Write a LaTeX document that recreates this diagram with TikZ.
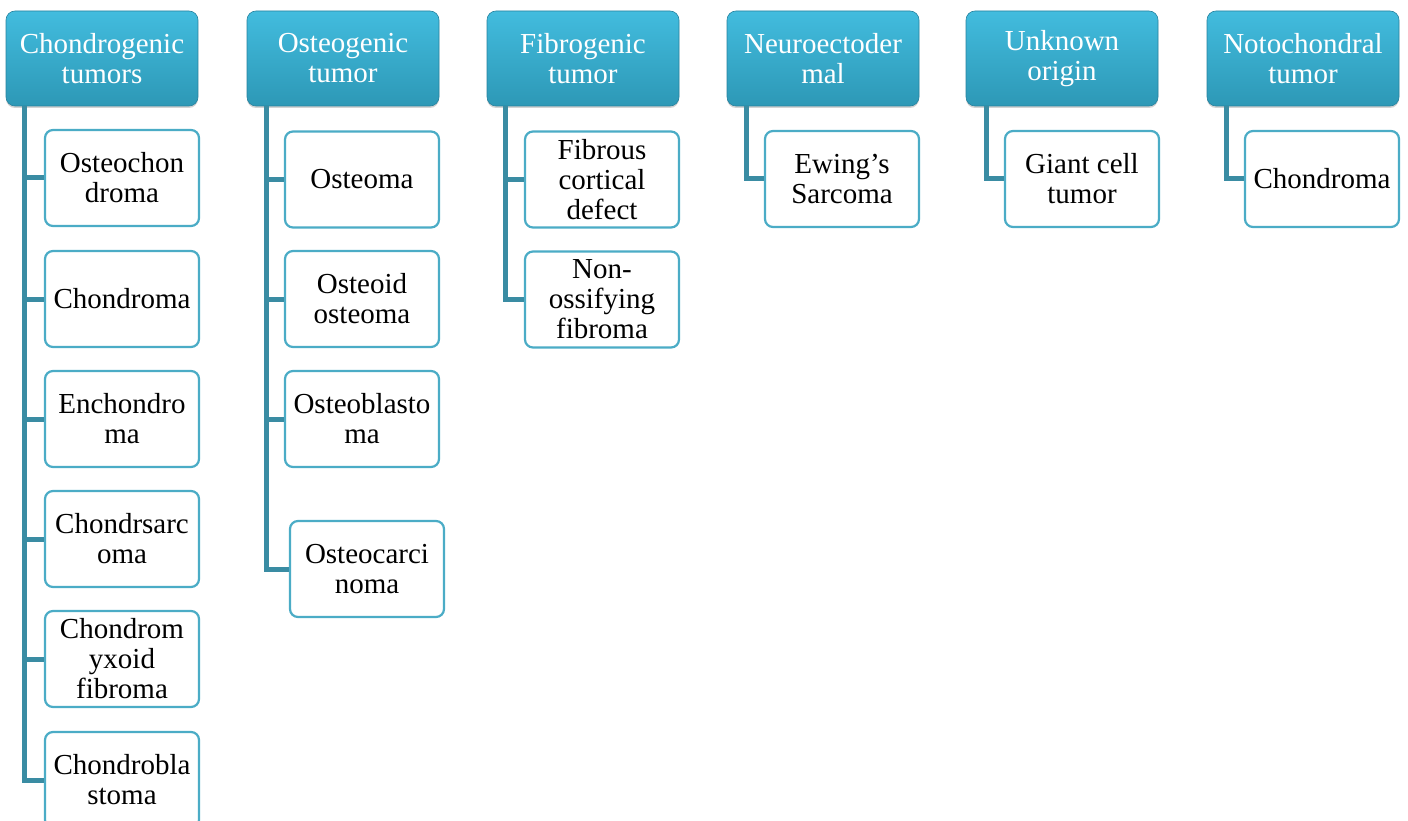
\documentclass[tikz,border=0pt]{standalone}
\usepackage{fontspec}
\setmainfont{Liberation Serif}
\usetikzlibrary{shadows}
\definecolor{hdtop}{RGB}{66,188,222}
\definecolor{hdbot}{RGB}{45,152,182}
\definecolor{hdline}{RGB}{40,130,158}
\definecolor{conncol}{RGB}{58,140,163}
\definecolor{childcol}{RGB}{75,172,198}
\tikzset{
  hdr/.style={rounded corners=9pt, minimum width=192pt, minimum height=95pt,
    top color=hdtop, bottom color=hdbot, draw=hdline, line width=0.6pt,
    text=white, align=center, inner sep=0pt,
    font=\fontsize{29}{30}\selectfont,
    drop shadow={opacity=0.35, shadow xshift=0pt, shadow yshift=-2pt}},
  child/.style={rounded corners=8pt, minimum width=154pt, minimum height=96pt,
    draw=childcol, line width=2.2pt, fill=white, text=black, align=center,
    inner sep=0pt, font=\fontsize{29}{30}\selectfont},
  conn/.style={draw=conncol, line width=5pt}
}
\begin{document}
\begin{tikzpicture}[x=1pt,y=-1pt]
\useasboundingbox (0,0) rectangle (1408,821);
\clip (0,0) rectangle (1408,821);
% headers
\node[hdr] (h1) at (102,58.5) {Chondrogenic\\tumors};
\node[hdr] (h2) at (343,58.5) {Osteogenic\\tumor};
\node[hdr] (h3) at (583,58.5) {Fibrogenic\\tumor};
\node[hdr] (h4) at (823,58.5) {Neuroectoder\\mal};
\node[hdr] (h5) at (1062,58.5) {Unknown\\origin};
\node[hdr] (h6) at (1303,58.5) {Notochondral\\tumor};
% connectors (drawn first so boxes cover ends)
\node[child] (c11) at (122,178) {Osteochon\\droma};
\node[child] (c12) at (122,299) {Chondroma};
\node[child] (c13) at (122,419) {Enchondro\\ma};
\node[child] (c14) at (122,539) {Chondrsarc\\oma};
\node[child] (c15) at (122,659) {Chondrom\\yxoid\\fibroma};
\node[child] (c16) at (122,780) {Chondrobla\\stoma};
\node[child] (c21) at (362,179.5) {Osteoma};
\node[child] (c22) at (362,299) {Osteoid\\osteoma};
\node[child] (c23) at (362,419) {Osteoblasto\\ma};
\node[child] (c24) at (367,569) {Osteocarci\\noma};
\node[child] (c31) at (602,179.5) {Fibrous\\cortical\\defect};
\node[child] (c32) at (602,299.5) {Non-\\ossifying\\fibroma};
\node[child] (c41) at (842,179) {Ewing’s\\Sarcoma};
\node[child] (c51) at (1082,179) {Giant cell\\tumor};
\node[child] (c61) at (1322,179) {Chondroma};
\begin{scope}[on background layer/.style={}]
\foreach \c in {c11,c12,c13,c14,c15,c16}
  \draw[conn] ([xshift=19pt]h1.south west) |- (\c.west);
\foreach \c in {c21,c22,c23,c24}
  \draw[conn] ([xshift=20pt]h2.south west) |- (\c.west);
\foreach \c in {c31,c32}
  \draw[conn] ([xshift=19pt]h3.south west) |- (\c.west);
\draw[conn] ([xshift=20pt]h4.south west) |- (c41.west);
\draw[conn] ([xshift=21pt]h5.south west) |- (c51.west);
\draw[conn] ([xshift=20pt]h6.south west) |- (c61.west);
\end{scope}
\end{tikzpicture}
\end{document}
